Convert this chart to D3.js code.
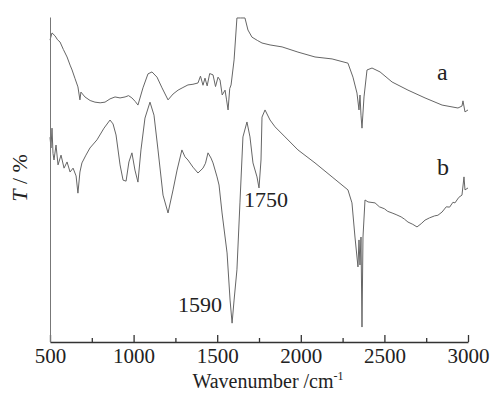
<!DOCTYPE html>
<html>
<head>
<meta charset="utf-8">
<script src="https://cdn.jsdelivr.net/npm/d3@7/dist/d3.min.js"></script>
<style>
  html, body { margin: 0; padding: 0; background: #ffffff; }
  svg { display: block; }
  text { font-family: "Liberation Serif", "DejaVu Serif", serif; fill: #222; }
</style>
</head>
<body>
<svg id="chart" width="496" height="393"></svg>
<script>
// Wavenumbers (cm^-1) and transmittance (arbitrary %, offset traces)
const waveA = [500,512,530,545,560,580,602,620,632,650,667,679,685,709,740,769,800,829,859,889,919,949,970,990,1010,1026,1056,1086,1110,1140,1170,1206,1236,1266,1295,1325,1355,1385,1400,1415,1427,1440,1455,1475,1490,1505,1517,1530,1547,1556,1565,1575,1583,1601,1618,1640,1666,1684,1708,1740,1768,1816,1888,1983,2085,2187,2282,2312,2336,2348,2354,2360,2366,2378,2396,2426,2474,2546,2641,2743,2845,2940,2964,2970,2982,3000];
const transA = [92.9,95.1,94.2,93.0,92.3,90.0,87.7,85.2,83.7,81.0,78.5,74.5,76.9,75.4,74.3,73.8,73.6,73.8,74.8,75.4,75.1,75.4,75.8,75.1,74.0,72.9,78.2,82.5,83.1,81.5,78.2,74.5,76.3,77.5,78.3,79.1,79.3,79.7,81.8,79.0,81.2,78.8,82.6,82.2,78.6,81.5,80.6,76.0,77.5,74.5,71.4,78.0,79.1,86.8,99.7,99.7,99.7,96.0,93.8,92.8,92.0,91.4,90.8,89.2,87.7,87.1,85.8,81.5,76.6,71.4,76.0,69.8,65.8,75.4,83.7,84.3,83.1,80.0,77.5,75.1,72.9,72.0,72.6,74.2,70.8,71.4];

const waveB = [500,506,512,518,524,536,548,566,584,602,620,638,656,667,679,691,715,739,781,823,859,877,895,919,937,955,972,990,1008,1026,1044,1068,1098,1122,1146,1176,1206,1236,1260,1289,1307,1325,1355,1385,1415,1430,1445,1463,1475,1499,1511,1529,1559,1577,1589,1601,1618,1636,1654,1678,1696,1714,1738,1750,1762,1768,1786,1816,1846,1906,1983,2085,2187,2282,2306,2324,2342,2348,2354,2360,2366,2372,2384,2402,2444,2470,2500,2520,2546,2570,2600,2620,2641,2670,2695,2720,2743,2770,2800,2820,2845,2870,2890,2910,2922,2945,2964,2976,2982,3000];
const transB = [63.0,59.7,65.8,58.0,56.0,60.6,54.5,57.5,53.5,55.4,52.3,53.5,51.1,45.8,52.3,55.1,57.5,59.7,62.2,65.8,68.3,67.1,63.7,54.5,49.8,49.5,55.4,58.2,52.9,49.2,59.1,68.9,73.8,69.8,59.1,45.2,39.7,46.8,52.9,59.1,57.0,56.0,53.8,52.0,53.5,55.0,58.2,56.6,55.1,50.8,48.3,39.7,27.4,12.9,5.8,12.9,22.2,42.8,63.1,67.7,63.1,55.1,50.8,47.4,56.0,69.2,71.4,68.3,66.2,63.1,59.1,55.1,50.8,46.8,42.8,32.3,23.1,31.4,23.7,32.3,4.6,32.3,43.7,43.1,42.8,41.6,41.0,40.2,39.7,39.2,38.5,37.8,36.9,36.2,35.4,36.4,37.5,38.2,38.8,39.0,40.0,41.6,41.5,43.0,42.8,44.5,45.2,50.8,46.8,47.4];

const majorTicks = [500,1000,1500,2000,2500,3000];
const minorTicks = [750,1250,1750,2250,2750];
const seriesLabels = ["a","b"];
const peakLabels = ["1750","1590"];

const svg = d3.select("#chart");
const x = d3.scaleLinear().domain([500,3000]).range([50,468]);
const y = d3.scaleLinear().domain([0,100]).range([342,17]);

const line = d3.line().x((d)=>x(d[0])).y((d)=>y(d[1]));

[[waveA, transA],[waveB, transB]].forEach(([w,t]) => {
  svg.append("path")
    .datum(d3.zip(w, t))
    .attr("d", line).attr("fill","none")
    .attr("stroke","#666").attr("stroke-width",1).attr("stroke-linejoin","round");
});

// bottom axis: major ticks with labels, ticks point inward (up)
const xAxis = svg.append("g").attr("transform","translate(0,342)")
  .call(d3.axisBottom(x).tickValues(majorTicks).tickSize(-7).tickSizeOuter(0).tickPadding(6).tickFormat(d3.format("d")));
xAxis.select(".domain").attr("stroke","#333").attr("stroke-width",1.5);
xAxis.selectAll(".tick line").attr("stroke","#333").attr("stroke-width",1.3);
xAxis.selectAll("text").attr("font-size","21px").attr("fill","#222")
  .style("font-family","'Liberation Serif', serif");

const xMinor = svg.append("g").attr("transform","translate(0,342)")
  .call(d3.axisBottom(x).tickValues(minorTicks).tickSize(-4).tickFormat(""));
xMinor.select(".domain").remove();
xMinor.selectAll(".tick line").attr("stroke","#333").attr("stroke-width",1.3);

// left axis: plain line
const yAxis = svg.append("g").attr("transform","translate(50,0)")
  .call(d3.axisLeft(y).tickValues([]).tickSizeOuter(0));
yAxis.select(".domain").attr("stroke","#777").attr("stroke-width",1);

// axis titles
const xt = svg.append("text").attr("x",268).attr("y",388)
  .attr("text-anchor","middle").attr("font-size","20px");
xt.append("tspan").text("Wavenumber /cm");
xt.append("tspan").attr("font-size","12px").attr("dy","-8").text("-1");

const yt = svg.append("text")
  .attr("transform","translate(27,178) rotate(-90)")
  .attr("text-anchor","middle").attr("font-size","22px");
yt.append("tspan").attr("font-style","italic").text("T");
yt.append("tspan").text(" / %");

// series labels
svg.append("text").attr("x",x(2815)).attr("y",80).attr("font-size","24px").text(seriesLabels[0]);
svg.append("text").attr("x",x(2815)).attr("y",175).attr("font-size","24px").text(seriesLabels[1]);

// peak annotations
svg.append("text").attr("x",x(1660)).attr("y",207).attr("font-size","22px").text(peakLabels[0]);
svg.append("text").attr("x",x(1265)).attr("y",312).attr("font-size","22px").text(peakLabels[1]);
</script>
</body>
</html>
